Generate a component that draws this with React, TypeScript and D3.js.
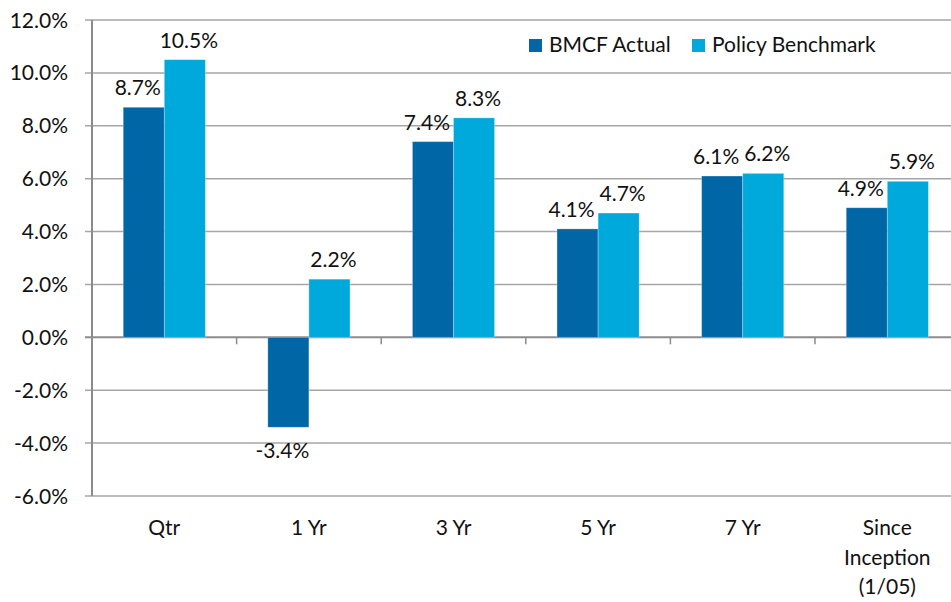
import React from 'react';
import * as d3 from 'd3';

// chart data
const categories = ['Qtr', '1 Yr', '3 Yr', '5 Yr', '7 Yr', 'Since\nInception\n(1/05)'];
const seriesNames = ['BMCF Actual', 'Policy Benchmark'];
const bmcfActual = [8.7, -3.4, 7.4, 4.1, 6.1, 4.9];
const policyBenchmark = [10.5, 2.2, 8.3, 4.7, 6.2, 5.9];
const yTicks = [-6, -4, -2, 0, 2, 4, 6, 8, 10, 12];

const colors = ['#0066a6', '#00a9dc'];
const font = 'Lato, "Open Sans", sans-serif';
const fs = 21;

const W = 951;
const H = 602;
const left = 92;
const top = 20;
const bottom = 496;
const right = 959.6;

const fmt = d3.formatLocale({ decimal: '.', thousands: ',', grouping: [3], currency: ['', ''], minus: '-' }).format('.1f');

export default function App() {
  const series = [bmcfActual, policyBenchmark];

  const x = d3.scaleBand<string>()
    .domain(categories)
    .range([left, right]);

  const inner = d3.scaleBand<number>()
    .domain([0, 1])
    .range([0, x.bandwidth()])
    .paddingOuter(0.76)
    .paddingInner(0);

  const y = d3.scaleLinear()
    .domain([-6, 12])
    .range([bottom, top]);

  return (
    <svg width={W} height={H} style={{ position: 'absolute', left: 0, top: 0, background: '#fff' }}
      fontFamily={font}>
      {/* gridlines */}
      {yTicks.map(t => (
        <g key={t}>
          <line x1={left - 7} x2={W} y1={y(t)} y2={y(t)} stroke={t === 0 ? '#8c8c8c' : '#a6a6a6'} strokeWidth={t === 0 ? 2 : 1.5} />
          <text x={68} y={y(t)} dy="0.36em" textAnchor="end" fontSize={fs} fill="#111">
            {fmt(t) + '%'}
          </text>
        </g>
      ))}
      {/* y axis */}
      <line x1={left} x2={left} y1={top} y2={bottom} stroke="#8c8c8c" strokeWidth={2} />
      {/* x ticks */}
      {categories.slice(1).map(c => (
        <line key={c} x1={x(c)} x2={x(c)} y1={y(0)} y2={y(0) + 7} stroke="#8c8c8c" strokeWidth={1.5} />
      ))}
      {/* bars */}
      {categories.map((c, i) => (
        <g key={c} transform={`translate(${x(c)},0)`}>
          {series.map((s, j) => {
            const v = s[i];
            const bx = inner(j)!;
            const by = y(Math.max(0, v));
            const bh = Math.abs(y(v) - y(0));
            return (
              <g key={j}>
                <rect x={bx} y={by} width={inner.bandwidth()} height={bh} fill={colors[j]}
                  stroke="#ffffff" strokeOpacity={0.35} strokeWidth={0.8} />
                <text x={bx + inner.bandwidth() / 2 + (j === 0 ? -6 : 4)} y={v >= 0 ? by - 12 : y(v) + 31}
                  textAnchor="middle" fontSize={fs} fill="#111">
                  {fmt(v) + '%'}
                </text>
              </g>
            );
          })}
        </g>
      ))}
      {/* category labels */}
      {categories.map(c => (
        <text key={c} x={x(c)! + x.bandwidth() / 2} y={535} textAnchor="middle" fontSize={fs} fill="#111">
          {c.split('\n').map((line, k) => (
            <tspan key={k} x={x(c)! + x.bandwidth() / 2} dy={k === 0 ? 0 : 29.5}>{line}</tspan>
          ))}
        </text>
      ))}
      {/* legend */}
      {seriesNames.map((name, j) => {
        const lx = [529, 692][j];
        return (
          <g key={name}>
            <rect x={lx} y={39} width={13} height={13} fill={colors[j]} />
            <text x={lx + 20} y={52} fontSize={fs} fill="#111">{name}</text>
          </g>
        );
      })}
    </svg>
  );
}
